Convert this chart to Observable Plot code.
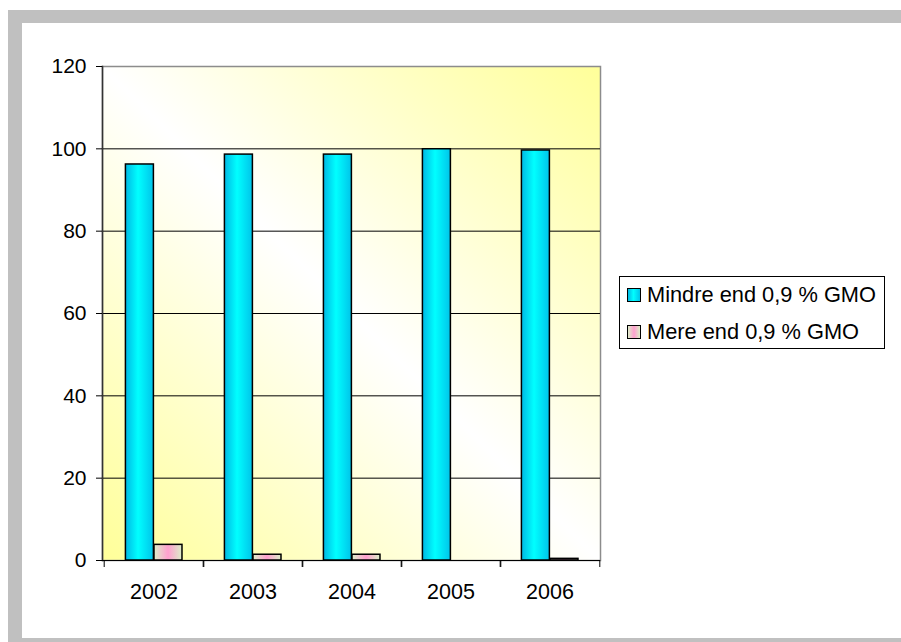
<!DOCTYPE html>
<html>
<head>
<meta charset="utf-8">
<script src="https://cdn.jsdelivr.net/npm/d3@7"></script>
<script src="https://cdn.jsdelivr.net/npm/@observablehq/plot@0.6"></script>
<style>
  html, body { margin: 0; padding: 0; background: #fff; width: 901px; height: 642px; overflow: hidden; }
  body { position: relative; font-family: "Liberation Sans", Arial, sans-serif; }
  #outer { position: absolute; left: 8px; top: 10px; width: 900px; height: 640px; background: #c0c0c0; }
  #inner { position: absolute; left: 22px; top: 23px; width: 879px; height: 615px; background: #fff; }
  #chart { position: absolute; left: 22px; top: 23px; }
  #legend { position: absolute; left: 619px; top: 276px; width: 264px; height: 71px; border: 1px solid #000; background: #fff; font-size: 21.8px; color: #000; }
  .row { position: absolute; left: 7px; height: 24px; display: flex; align-items: center; white-space: nowrap; }
  .sw { width: 12px; height: 12px; border: 1px solid #000; margin-right: 6px; }
</style>
</head>
<body>
<div id="outer"></div>
<div id="inner"></div>
<div id="chart"></div>
<div id="legend"></div>
<script>
// ---- data ----
const years = ["2002", "2003", "2004", "2005", "2006"];
const seriesNames = ["Mindre end 0,9 % GMO", "Mere end 0,9 % GMO"];
const mindre = [96.2, 98.6, 98.6, 99.9, 99.6];
const mere = [3.8, 1.4, 1.4, 0, 0.4];
const yTicks = [0, 20, 40, 60, 80, 100, 120];

const rows = [];
years.forEach((y, i) => {
  rows.push({year: y, series: seriesNames[0], value: mindre[i]});
  rows.push({year: y, series: seriesNames[1], value: mere[i]});
});

// ---- layout ----
const W = 879, H = 615, mL = 80, mR = 301, mT = 43, mB = 78;
const bw = (W - mL - mR) / years.length;
const outerFrac = 0.215, barFrac = 0.287;
function insetsFor(i) {
  const l = bw * (outerFrac + i * barFrac);
  return {insetLeft: l, insetRight: bw - l - bw * barFrac};
}

const gradStops = [
  [[0, "#00b8e4"], [0.45, "#00ffff"], [1, "#00c4ea"]],
  [[0, "#dcefc8"], [0.5, "#ff9fcf"], [1, "#dcefc8"]]
];

function defsMark() {
  const defs = d3.create("svg:defs");
  const bg = defs.append("linearGradient").attr("id", "bg")
    .attr("x1", 1).attr("y1", 0).attr("x2", 0).attr("y2", 1);
  [[0, "#ffff99"], [0.5, "#ffffff"], [1, "#ffff99"]].forEach(([o, c]) =>
    bg.append("stop").attr("offset", o).attr("stop-color", c));
  gradStops.forEach((stops, i) => {
    const g = defs.append("linearGradient").attr("id", "grad" + i)
      .attr("x1", 0).attr("y1", 0).attr("x2", 1).attr("y2", 0);
    stops.forEach(([o, c]) => g.append("stop").attr("offset", o).attr("stop-color", c));
  });
  return defs.node();
}

const chart = Plot.plot({
  width: W, height: H,
  marginLeft: mL, marginRight: mR, marginTop: mT, marginBottom: mB,
  style: {fontFamily: "Liberation Sans, Arial, sans-serif", fontSize: "21.5px", color: "#000", background: "transparent"},
  x: {domain: years, padding: 0, label: null},
  y: {domain: [0, 120], label: null},
  marks: [
    defsMark,
    Plot.frame({fill: "url(#bg)", stroke: "#8c8c8c", strokeWidth: 1.5}),
    Plot.ruleY(yTicks.filter(t => t > 0 && t < 120), {stroke: "#000", strokeWidth: 1}),
    ...seriesNames.map((s, i) =>
      Plot.barY(rows.filter(d => d.series === s), {
        x: "year", y: "value", fill: `url(#grad${i})`,
        stroke: "#000", strokeWidth: 1.5, ...insetsFor(i)
      })),
    Plot.frame({anchor: "left", stroke: "#333", strokeWidth: 1.5}),
    Plot.ruleY([0], {stroke: "#000", strokeWidth: 1.2}),
    Plot.axisY({ticks: yTicks, tickSize: 6, tickPadding: 10, fontSize: 21, label: null}),
    Plot.axisX({tickSize: 0, tickPadding: 23, fontSize: 21.5, label: null}),
    Plot.axisX({tickSize: 7, text: null, label: null, dx: -bw / 2}),
    Plot.axisX({tickSize: 7, text: null, label: null, dx: bw / 2})
  ]
});
document.getElementById("chart").appendChild(chart);

// legend
const legend = d3.select("#legend");
seriesNames.forEach((s, i) => {
  const row = legend.append("div").attr("class", "row").style("top", (i === 0 ? 6 : 43) + "px");
  const stops = gradStops[i].map(([o, c]) => `${c} ${o * 100}%`).join(", ");
  row.append("div").attr("class", "sw").style("background", `linear-gradient(to right, ${stops})`);
  row.append("span").text(s);
});
</script>
</body>
</html>
